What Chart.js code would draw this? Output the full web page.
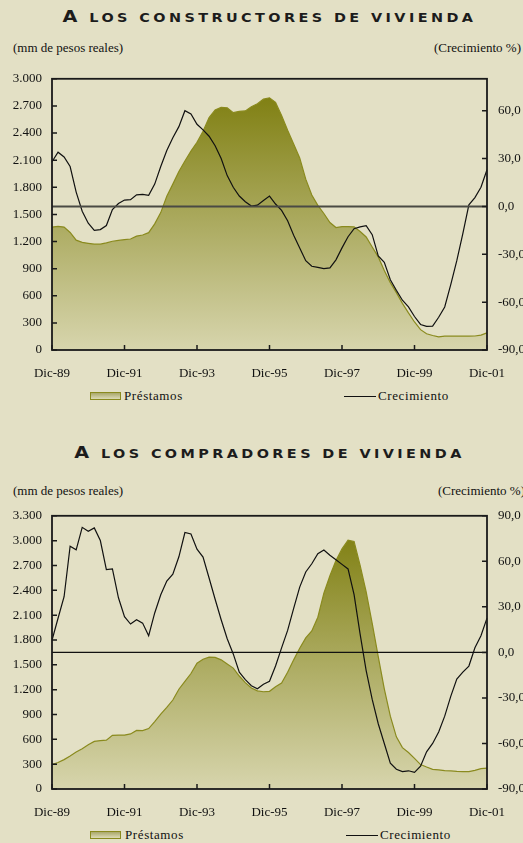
<!DOCTYPE html>
<html>
<head>
<meta charset="utf-8">
<script src="https://cdn.jsdelivr.net/npm/chart.js@4.4.0/dist/chart.umd.min.js"></script>
<style>
  html, body { margin: 0; padding: 0; background: #e3e0c5; }
  #page { position: relative; width: 523px; height: 843px; overflow: hidden; background: #e3e0c5; }
  .title { position: absolute; left: 8px; width: 523px; text-align: center; white-space: nowrap;
           font: bold 12px 'DejaVu Sans'; letter-spacing: 2.85px; text-transform: uppercase;
           line-height: 16px; color: #1c1c1c; transform: scaleX(1.2); }
  .title b { font-size: 16px; }
  .txt { position: absolute; font: 13px 'Liberation Serif'; line-height: 14px; color: #111; white-space: nowrap; }
  .box { position: absolute; width: 29px; height: 6px; border: 1px solid #8a8a1e;
         background: linear-gradient(#a9a76a, #dcdab6); }
  .line { position: absolute; height: 0; border-top: 1px solid #111; }
  canvas { position: absolute; left: 0; }
</style>
</head>
<body>
<div id="page">
  <div class="title" style="top:9px"><b>A</b> los constructores de vivienda</div>
  <div class="txt" style="left:13px; top:41px">(mm de pesos reales)</div>
  <div class="txt" style="right:2px; top:41px">(Crecimiento %)</div>
  <canvas id="c1" width="523" height="325" style="top:60px"></canvas>
  <div class="box" style="left:90px; top:392px"></div>
  <div class="txt" style="left:124px; top:389px; letter-spacing:0.6px">Préstamos</div>
  <div class="line" style="left:344px; top:396px; width:32px"></div>
  <div class="txt" style="left:378px; top:389px; letter-spacing:0.6px">Crecimiento</div>

  <div class="title" style="top:445px"><b>A</b> los compradores de vivienda</div>
  <div class="txt" style="left:13px; top:484px">(mm de pesos reales)</div>
  <div class="txt" style="right:-2px; top:484px">(Crecimiento %)</div>
  <canvas id="c2" width="523" height="328" style="top:497px"></canvas>
  <div class="box" style="left:90px; top:831px"></div>
  <div class="txt" style="left:125px; top:828px; letter-spacing:0.6px">Préstamos</div>
  <div class="line" style="left:346px; top:835px; width:32px"></div>
  <div class="txt" style="left:380px; top:828px; letter-spacing:0.6px">Crecimiento</div>
</div>
<script>
// periodos bimestrales, dic-89 a dic-01
const meses = ['Dic', 'Feb', 'Abr', 'Jun', 'Ago', 'Oct']
const periodos = []
for (let y = 89; y < 101; y++) {
  meses.forEach((m, i) => {
    const yy = i === 0 ? y : y + 1
    periodos.push(m + '-' + String(yy % 100).padStart(2, '0'))
  })
}
periodos.push('Dic-01')

const tickLabels = ['Dic-89', 'Dic-91', 'Dic-93', 'Dic-95', 'Dic-97', 'Dic-99', 'Dic-01']

// A los constructores de vivienda
const constructoresPrestamos = [
  1360, 1368, 1360, 1300, 1215, 1190, 1180, 1171, 1171, 1185,
  1203, 1212, 1220, 1228, 1260, 1272, 1298, 1395, 1520, 1700,
  1835, 1975, 2090, 2200, 2298, 2420, 2570, 2655, 2685, 2680,
  2625, 2640, 2645, 2690, 2725, 2775, 2790, 2740, 2595, 2430,
  2280, 2125, 1890, 1715, 1600, 1510, 1410, 1355, 1364, 1364,
  1362, 1310, 1250, 1140, 1030, 880, 745, 635, 516, 410,
  310, 225, 180, 160, 145, 153, 153, 153, 153, 153,
  155, 165, 189
]
const constructoresCrecimiento = [
  28, 34, 31, 25, 9, -3, -10.5, -15, -14.5, -12,
  -2, 1.8, 4, 4.2, 7.3, 7.5, 7, 14, 25, 35,
  43, 50, 60, 58, 51.5, 48, 44, 38, 30, 19.3,
  12, 6.5, 2.9, 0.2, 0.8, 3.7, 6.5, 1.5, -2.5, -9,
  -18, -26, -34, -37.5, -38.2, -39, -38.5, -33.5, -26, -19,
  -14, -12.8, -12, -17.7, -31, -35, -46, -52.6, -58.8, -63,
  -69, -74, -75.2, -75, -69.5, -63, -49, -34, -17, 1,
  5.5, 12, 23
]

// A los compradores de vivienda
const compradoresPrestamos = [
  295, 320, 355, 398, 446, 486, 535, 575, 585, 590,
  648, 651, 651, 665, 708, 706, 730, 815, 905, 985,
  1075, 1205, 1301, 1395, 1520, 1567, 1592, 1590, 1560, 1510,
  1460, 1365, 1285, 1220, 1185, 1175, 1180, 1235, 1280, 1410,
  1560, 1700, 1825, 1910, 2075, 2365, 2575, 2760, 2900, 3005,
  2990, 2700, 2380, 2000, 1600, 1210, 880, 630, 500, 440,
  370, 295, 265, 238, 232, 222, 218, 212, 210, 210,
  225, 245, 252
]
const compradoresCrecimiento = [
  8, 22.5, 36.7, 70, 67.6, 82.4, 79.8, 82, 73.7, 54.6,
  55, 36, 23.5, 18.7, 21.5, 19.3, 11, 26, 38, 47,
  51.5, 63, 79, 78, 68, 62.8, 49, 35, 21.5, 9,
  -1, -13, -18, -22, -24, -21, -19, -9, 3, 14.5,
  29, 43, 53, 58.4, 65, 67.5, 64, 61, 58, 55,
  38, 12, -12, -31, -47, -60, -73, -77, -78.5, -78,
  -79, -75, -65.5, -60, -52.5, -42, -29, -17.6, -13, -9,
  3, 11, 22.6
]

const font = { family: 'Liberation Serif', size: 13 }
const miles = (v) => String(v).replace(/\B(?=(\d{3})+(?!\d))/g, '.')
const decimal = (v) => v.toFixed(1).replace('.', ',')

// marco, marcas hacia dentro y linea de 0%
const marco = {
  id: 'marco',
  afterDatasetsDraw(chart, args, opts) {
    const { ctx, chartArea: a, scales } = chart
    ctx.save()
    const y0 = scales.y1.getPixelForValue(0)
    ctx.strokeStyle = opts.zeroColor
    ctx.lineWidth = opts.zeroWidth
    ctx.beginPath()
    ctx.moveTo(a.left, y0)
    ctx.lineTo(a.right, y0)
    ctx.stroke()

    ctx.strokeStyle = '#1a1a1a'
    ctx.lineWidth = 1.5
    ctx.beginPath()
    scales.y.ticks.forEach((t) => {
      const y = scales.y.getPixelForValue(t.value)
      ctx.moveTo(a.left, y)
      ctx.lineTo(a.left + 5, y)
    })
    scales.y1.ticks.forEach((t) => {
      const y = scales.y1.getPixelForValue(t.value)
      ctx.moveTo(a.right - 5, y)
      ctx.lineTo(a.right, y)
    })
    tickLabels.forEach((l, i) => {
      const x = scales.x.getPixelForValue(i * 12)
      ctx.moveTo(x, a.bottom)
      ctx.lineTo(x, a.bottom - 5)
    })
    ctx.stroke()
    ctx.lineWidth = 1.8
    ctx.strokeRect(a.left, a.top, a.right - a.left, a.bottom - a.top)
    ctx.restore()
  },
}

function degradado(context) {
  const { ctx, chartArea } = context.chart
  if (!chartArea) return '#b0ae70'
  const g = ctx.createLinearGradient(0, chartArea.top, 0, chartArea.bottom)
  g.addColorStop(0, '#7a7a08')
  g.addColorStop(1, '#d7d5ad')
  return g
}

function crearGrafico(id, prestamos, crecimiento, yMax, y1Max, xHeight, zeroColor, zeroWidth) {
  return new Chart(document.getElementById(id), {
    type: 'line',
    data: {
      labels: periodos,
      datasets: [
        {
          label: 'Crecimiento',
          data: crecimiento,
          yAxisID: 'y1',
          borderColor: '#111111',
          borderWidth: 1.2,
          pointRadius: 0,
          fill: false,
          order: 0,
        },
        {
          label: 'Préstamos',
          data: prestamos,
          yAxisID: 'y',
          borderColor: '#8a8a1e',
          borderWidth: 1.2,
          backgroundColor: degradado,
          pointRadius: 0,
          fill: 'origin',
          order: 1,
        },
      ],
    },
    options: {
      responsive: false,
      animation: false,
      layout: { padding: { top: 16, left: 0, right: 0, bottom: 0 } },
      plugins: {
        legend: { display: false },
        tooltip: { enabled: false },
        marco: { zeroColor: zeroColor, zeroWidth: zeroWidth },
      },
      scales: {
        x: {
          grid: { display: false, drawTicks: false },
          border: { display: false },
          ticks: {
            autoSkip: false,
            maxRotation: 0,
            padding: 16,
            color: '#111',
            font: font,
            callback: (v, i) => (i % 12 === 0 ? tickLabels[i / 12] : ''),
          },
          afterFit: (s) => { s.height = xHeight },
        },
        y: {
          position: 'left',
          min: 0,
          max: yMax,
          grid: { display: false, drawTicks: false },
          border: { display: false },
          ticks: { stepSize: 300, padding: 10, color: '#111', font: font, callback: miles },
          afterFit: (s) => { s.width = 52 },
        },
        y1: {
          position: 'right',
          min: -90,
          max: y1Max,
          grid: { display: false, drawTicks: false },
          border: { display: false },
          ticks: { stepSize: 30, includeBounds: false, padding: 11, color: '#111', font: font, callback: decimal },
          afterFit: (s) => { s.width = 36 },
        },
      },
    },
    plugins: [marco],
  })
}

crearGrafico('c1', constructoresPrestamos, constructoresCrecimiento, 3000, 80, 35, '#4a4a44', 2)
crearGrafico('c2', compradoresPrestamos, compradoresCrecimiento, 3300, 90, 36, '#111111', 1.2)
</script>
</body>
</html>
